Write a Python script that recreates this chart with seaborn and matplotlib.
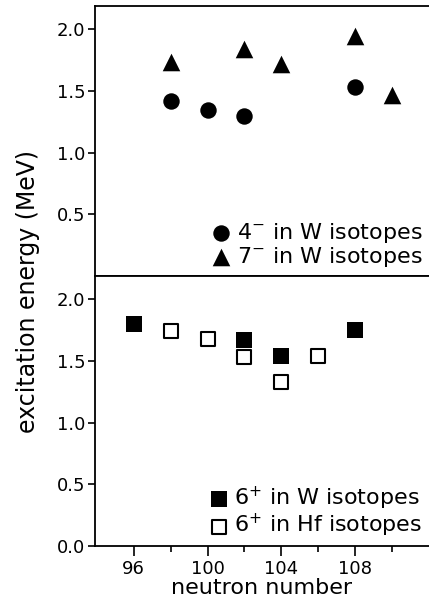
import numpy as np
import pandas as pd
import matplotlib
matplotlib.use("Agg")
import matplotlib.pyplot as plt
import seaborn as sns

# top panel: W isotopes, negative parity states
n_4minus = [98, 100, 102, 108]
e_4minus = [1.42, 1.35, 1.30, 1.53]
n_7minus = [98, 102, 104, 108, 110]
e_7minus = [1.74, 1.84, 1.72, 1.95, 1.47]

# bottom panel: 6+ states
n_6plus_w = [96, 102, 104, 108]
e_6plus_w = [1.80, 1.67, 1.54, 1.75]
n_6plus_hf = [98, 100, 102, 104, 106]
e_6plus_hf = [1.74, 1.68, 1.53, 1.33, 1.54]

x_major = [96, 100, 104, 108]
x_minor = [98, 102, 106, 110]

sns.set_style("ticks")
plt.rcParams['font.family'] = ['DejaVu Sans']
plt.rcParams['mathtext.fontset'] = 'dejavusans'
plt.rcParams['mathtext.default'] = 'rm'
for key in ('text.color', 'axes.labelcolor', 'xtick.color', 'ytick.color', 'axes.edgecolor'):
    plt.rcParams[key] = 'black'

fig = plt.figure(figsize=(4.29, 6.03), dpi=100)
ax_top = fig.add_axes([0.2214, 0.5423, 0.7786, 0.4477])
ax_bot = fig.add_axes([0.2214, 0.0945, 0.7786, 0.4478])

sns.scatterplot(x=n_4minus, y=e_4minus, ax=ax_top, marker='o', color='black',
                s=140, linewidth=0, label=r"4$^{-}$ in W isotopes")
sns.scatterplot(x=n_7minus, y=e_7minus, ax=ax_top, marker='^', color='black',
                s=160, linewidth=0, label=r"7$^{-}$ in W isotopes")

sns.scatterplot(x=n_6plus_w, y=e_6plus_w, ax=ax_bot, marker='s', color='black',
                s=140, linewidth=0, label=r"6$^{+}$ in W isotopes")
sns.scatterplot(x=n_6plus_hf, y=e_6plus_hf, ax=ax_bot, marker='s', color='white',
                edgecolor='black', s=115, linewidth=1.5, label=r"6$^{+}$ in Hf isotopes")

for ax in (ax_top, ax_bot):
    ax.set_xlim(93.9, 112.0)
    ax.set_ylim(0.0, 2.19)
    ax.spines['right'].set_visible(False)
    for sp in ('left', 'top', 'bottom'):
        ax.spines[sp].set_linewidth(1.3)
    ax.tick_params(axis='y', direction='out', length=5, width=1.2, labelsize=13, pad=2)
    ax.set_xlabel('')
    ax.set_ylabel('')
    ax.legend(loc='lower right', frameon=False, fontsize=16,
              handletextpad=0.15, borderaxespad=0.0, labelspacing=0.0,
              borderpad=0.3, handlelength=1.1)

ax_top.set_yticks([0.5, 1.0, 1.5, 2.0])
ax_top.set_xticks([])
ax_top.tick_params(axis='x', bottom=False, labelbottom=False)

ax_bot.set_yticks([0.0, 0.5, 1.0, 1.5, 2.0])
ax_bot.set_xticks(x_major)
ax_bot.set_xticks(x_minor, minor=True)
ax_bot.tick_params(axis='x', which='major', direction='out', length=7, width=1.2,
                   labelsize=13, pad=3)
ax_bot.tick_params(axis='x', which='minor', direction='out', length=4, width=1.2)
ax_bot.set_xlabel('neutron number', fontsize=16, labelpad=0)

fig.text(0.066, 0.516, 'excitation energy (MeV)', rotation=90, va='center', ha='center',
         fontsize=17)

fig.savefig('out.png', dpi=100)
